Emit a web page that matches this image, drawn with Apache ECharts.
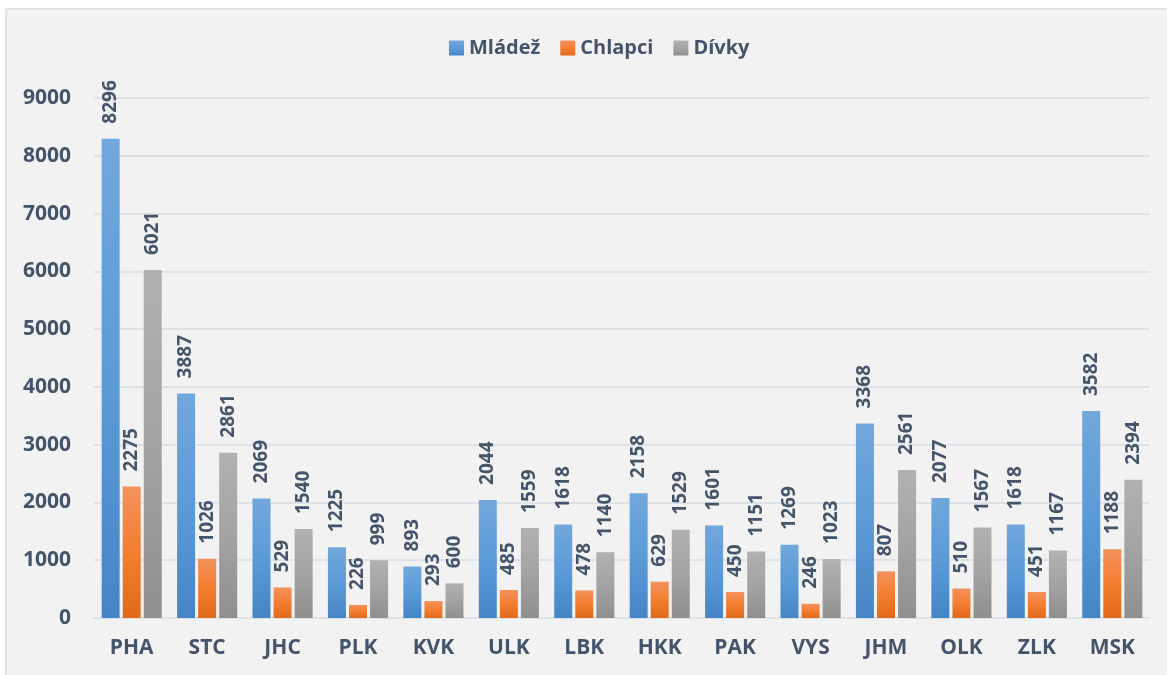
<!DOCTYPE html>
<html>
<head>
<meta charset="utf-8">
<script src="https://cdn.jsdelivr.net/npm/echarts@6/dist/echarts.min.js"></script>
<style>
html,body{margin:0;padding:0;background:#ffffff;width:1167px;height:675px;overflow:hidden;}
#bg{position:absolute;left:5px;top:8px;right:0;bottom:0;background:#f2f2f2;border-left:2px solid #dfe4ea;border-top:2px solid #dfe4ea;}
#c{position:absolute;left:0;top:0;width:1167px;height:675px;}
</style>
</head>
<body>
<div id="bg"></div>
<div id="c"></div>
<script>
const categories = ['PHA','STC','JHC','PLK','KVK','ULK','LBK','HKK','PAK','VYS','JHM','OLK','ZLK','MSK'];
const mladez  = [8296,3887,2069,1225,893,2044,1618,2158,1601,1269,3368,2077,1618,3582];
const chlapci = [2275,1026,529,226,293,485,478,629,450,246,807,510,451,1188];
const divky   = [6021,2861,1540,999,600,1559,1140,1529,1151,1023,2561,1567,1167,2394];
const seriesNames = ['Mládež','Chlapci','Dívky'];
const yTicks = [0,1000,2000,3000,4000,5000,6000,7000,8000,9000];

const textColor = '#44546a';
const fontFamily = '"Open Sans", "Noto Sans", sans-serif';

function grad(top, mid, bottom){
  return new echarts.graphic.LinearGradient(0,0,0,1,[
    {offset:0,color:top},{offset:0.5,color:mid},{offset:1,color:bottom}
  ]);
}
const colors = [
  grad('#72a7dc','#5b9bd8','#4585c5'),
  grad('#f4925d','#f47d30','#e2691c'),
  grad('#b1b1b1','#a3a3a3','#8f8f8f')
];

const label = {
  show:true, position:'top', rotate:90, align:'left', verticalAlign:'middle',
  distance:15, color:textColor, fontFamily:fontFamily, fontWeight:'bold', fontSize:19
};

const chart = echarts.init(document.getElementById('c'));
chart.setOption({
  backgroundColor:'transparent',
  animation:false,
  legend:{
    data:seriesNames, top:33, left:444, itemWidth:15, itemHeight:15, itemGap:20,
    icon:'rect',
    textStyle:{color:textColor, fontFamily:fontFamily, fontWeight:'bold', fontSize:20}
  },
  grid:{left:94, right:17, top:98, bottom:57, containLabel:false},
  xAxis:{
    type:'category', data:categories,
    axisLine:{show:true, lineStyle:{color:'#dde2e8', width:2}},
    axisTick:{show:false},
    axisLabel:{color:textColor, fontFamily:fontFamily, fontWeight:'bold', fontSize:21, margin:20}
  },
  yAxis:{
    type:'value', min:yTicks[0], max:yTicks[yTicks.length-1], interval:1000,
    axisLine:{show:false}, axisTick:{show:false},
    splitLine:{lineStyle:{color:'#dde2e8', width:2}},
    axisLabel:{color:textColor, fontFamily:fontFamily, fontWeight:'bold', fontSize:21, margin:23,
      formatter:function(v){ return String(v); }}
  },
  series:[
    {name:seriesNames[0], type:'bar', data:mladez, barWidth:18, barGap:'17%', barCategoryGap:'20%', itemStyle:{color:colors[0]}, label:label},
    {name:seriesNames[1], type:'bar', data:chlapci, barWidth:18, barGap:'17%', itemStyle:{color:colors[1]}, label:label},
    {name:seriesNames[2], type:'bar', data:divky, barWidth:18, barGap:'17%', itemStyle:{color:colors[2]}, label:label}
  ]
});
</script>
</body>
</html>
